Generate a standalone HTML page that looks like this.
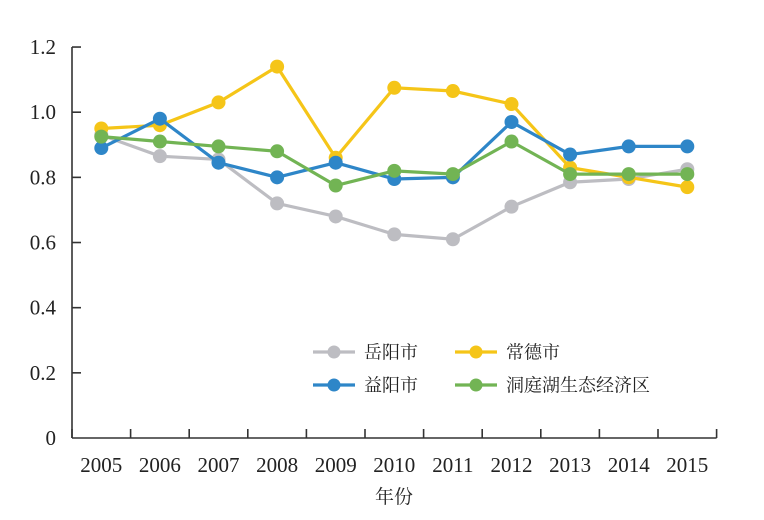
<!DOCTYPE html>
<html><head><meta charset="utf-8"><style>
html,body{margin:0;padding:0;background:#fff;}
svg{display:block;font-family:"Liberation Serif","Noto Serif CJK SC",serif;}
</style></head><body>
<svg id="s" width="764" height="520" xmlns="http://www.w3.org/2000/svg"></svg>
<script>
const s=document.getElementById('s');
let h='';
const X0=72,W=58.6,Y0=438,K=325.8;
const px=i=>X0+W*(i+0.5), py=v=>Y0-v*K;
h+=`<line x1="${X0}" y1="47" x2="${X0}" y2="${Y0}" stroke="#333" stroke-width="1.6"/>`;
h+=`<line x1="${X0}" y1="${Y0}" x2="${X0+W*11}" y2="${Y0}" stroke="#333" stroke-width="1.6"/>`;
for(let k=0;k<=6;k++){const v=k*0.2,y=py(v);
 if(k>0)h+=`<line x1="${X0}" y1="${y}" x2="${X0+9}" y2="${y}" stroke="#333" stroke-width="1.6"/>`;
 h+=`<text x="56" y="${y+7}" font-size="21" text-anchor="end" fill="#222">${k==0?'0':v.toFixed(1)}</text>`;}
for(let i=0;i<=11;i++){const x=X0+W*i;h+=`<line x1="${x}" y1="${Y0}" x2="${x}" y2="${Y0-9}" stroke="#333" stroke-width="1.6"/>`;}
for(let i=0;i<11;i++)h+=`<text x="${px(i)}" y="472" font-size="21" text-anchor="middle" fill="#222">${2005+i}</text>`;
h+=`<text x="394" y="503" font-size="19" text-anchor="middle" fill="#222">年份</text>`;
const S=[
 ['#bdbdc2',[0.93,0.865,0.855,0.72,0.68,0.625,0.61,0.71,0.785,0.795,0.825]],
 ['#f5c518',[0.95,0.96,1.03,1.14,0.86,1.075,1.065,1.025,0.83,0.80,0.77]],
 ['#2e86c8',[0.89,0.98,0.845,0.80,0.845,0.795,0.80,0.97,0.87,0.895,0.895]],
 ['#72b454',[0.925,0.91,0.895,0.88,0.775,0.82,0.81,0.91,0.81,0.81,0.81]]];
for(const [c,d] of S){
 h+=`<polyline fill="none" stroke="${c}" stroke-width="3.2" points="${d.map((v,i)=>px(i)+','+py(v)).join(' ')}"/>`;
 d.forEach((v,i)=>h+=`<circle cx="${px(i)}" cy="${py(v)}" r="7" fill="${c}"/>`);}
const L=[['#bdbdc2','岳阳市',313,352],['#f5c518','常德市',455,352],['#2e86c8','益阳市',313,385],['#72b454','洞庭湖生态经济区',455,385]];
for(const [c,t,x,y] of L){
 h+=`<line x1="${x}" y1="${y}" x2="${x+42}" y2="${y}" stroke="${c}" stroke-width="3.2"/><circle cx="${x+21}" cy="${y}" r="6.5" fill="${c}"/>`;
 h+=`<text x="${x+51}" y="${y+6.5}" font-size="18" fill="#222">${t}</text>`;}
s.innerHTML=h;
</script>
</body></html>
